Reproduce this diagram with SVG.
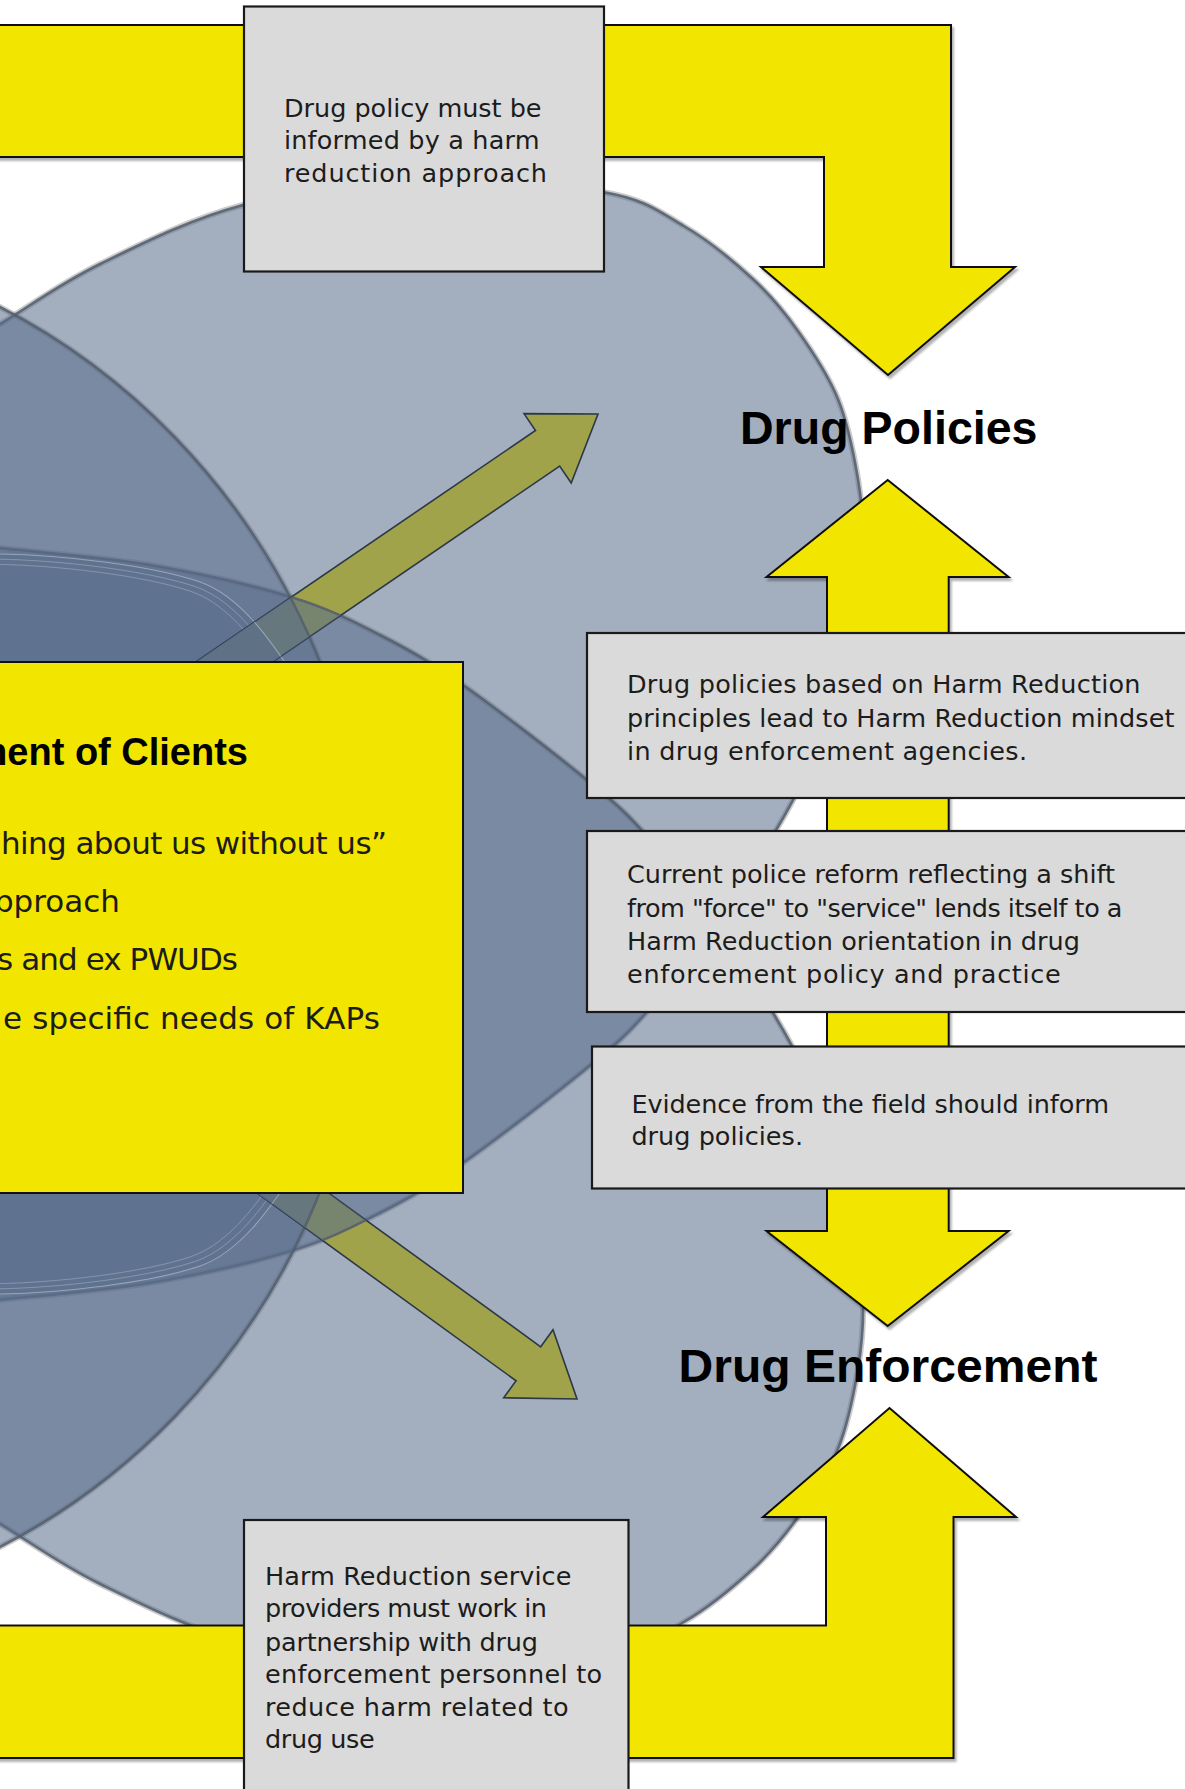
<svg xmlns="http://www.w3.org/2000/svg" xmlns:xlink="http://www.w3.org/1999/xlink" width="1185" height="1789" viewBox="0 0 1185 1789">
<defs>
<style>
.halo{fill:none;stroke:#a2a2a2;stroke-width:6;stroke-opacity:.55}
.lobe{fill:#596D8C;fill-opacity:.554;stroke:#545E6C;stroke-width:2.6;stroke-opacity:.85}
.core{fill:#596D8C;fill-opacity:.554;stroke:#ffffff;stroke-width:1.1;stroke-opacity:.35}
.ring{fill:none;stroke:#ffffff;stroke-width:1;stroke-opacity:.25}
.olive{fill:#A0A34A;stroke:#2C3846;stroke-width:1.6}
.yel{fill:#F2E600;stroke:#111;stroke-width:2;filter:url(#sh)}
.ybox{fill:#F2E600;stroke:#111;stroke-width:2}
.box{fill:#DADADA;stroke:#1a1a1a;stroke-width:2.2}
.t{font-family:'DejaVu Sans',sans-serif;font-size:25.5px;fill:#1c1c1c}
.b{font-family:'DejaVu Sans',sans-serif;font-size:31px;fill:#1c1c1c}
.h{font-family:'Liberation Sans',Arial,sans-serif;font-weight:bold;font-size:46px;fill:#000}
.hc{font-family:'Liberation Sans',Arial,sans-serif;font-weight:bold;font-size:38px;fill:#000}
</style>
<filter id="sh" x="-5%" y="-5%" width="115%" height="115%">
<feDropShadow dx="2" dy="3" stdDeviation="1.2" flood-color="#000" flood-opacity=".3"/>
</filter>
<path id="pA" d="M -50,352 L 0,324 C 25,309.3 59.5,283.8 100,264 C 140.5,244.2 189.7,219.2 243,205 C 296.3,190.8 360,181.2 420,179 C 480,176.8 559,184.2 603,192 C 647,199.8 659,211.5 684,226 C 709,240.5 734,261.5 753,279 C 772,296.5 783.8,311 798,331 C 812.2,351 828,374.3 838,399 C 848,423.7 853.8,453.8 858,479 C 862.2,504.2 863.8,524.8 863,550 C 862.2,575.2 857.8,604.2 853,630 C 848.2,655.8 841.5,681.7 834,705 C 826.5,728.3 817.8,748.8 808,770 C 798.2,791.2 790.5,806.3 775,832 C 759.5,857.7 736.3,894 715,924 C 693.7,954 668.3,988 647,1012 C 625.7,1036 617.7,1042.8 587,1068 C 556.3,1093.2 497.5,1138.8 463,1163 C 428.5,1187.2 408.7,1198.3 380,1213 C 351.3,1227.7 329.3,1239.3 291,1251 C 252.7,1262.7 198.5,1274.8 150,1283 C 101.5,1291.2 33.3,1296.3 0,1300 L -50,1305 Z"/>
<ellipse id="eC" cx="-300" cy="927" rx="671" ry="693"/>
<path id="pD" d="M -50,553 L 0,554 C 60,555 150,565 200,582 C 240,596 270,640 290,670 C 320,720 342,820 342,924 C 342,1028 320,1128 290,1178 C 270,1208 240,1252 200,1266 C 150,1283 60,1293 0,1294 L -50,1295 Z"/>
<clipPath id="clipUp"><polygon points="156.4,689 535.5,430.5 524,413.6 598,414 571.2,483 559.7,466.1 180.6,724.6"/></clipPath>
<clipPath id="clipLow"><polygon points="200.5,1100.2 540.7,1346.8 553,1329.8 577,1399 503.7,1397.8 516.1,1380.8 175.9,1134.2"/></clipPath>
</defs>
<rect x="0" y="0" width="1185" height="1789" fill="#ffffff"/>

<g id="venn">
<use href="#pA" class="halo"/>
<use href="#pA" class="halo" transform="matrix(1 0 0 -1 0 1848)"/>
<use href="#eC" class="halo"/>
<g id="circle-drug-policies"><use href="#pA" class="lobe"/></g>
<g id="circle-drug-enforcement"><use href="#pA" class="lobe" transform="matrix(1 0 0 -1 0 1848)"/></g>
<g id="circle-left"><use href="#eC" class="lobe"/></g>
<g id="circle-center">
<use href="#pD" class="core"/>
<use href="#pD" class="ring" transform="translate(-100 924) scale(0.986) translate(100 -924)"/>
<use href="#pD" class="ring" transform="translate(-100 924) scale(0.972) translate(100 -924)"/>
</g>
</g>

<g id="connectors">
<g id="arrow-to-policies">
<polygon class="olive" points="156.4,689 535.5,430.5 524,413.6 598,414 571.2,483 559.7,466.1 180.6,724.6"/>
<g clip-path="url(#clipUp)">
<use href="#pA" class="lobe" transform="matrix(1 0 0 -1 0 1848)"/>
<use href="#eC" class="lobe"/>
<use href="#pD" class="core"/>
</g>
</g>
<g id="arrow-to-enforcement">
<polygon class="olive" points="200.5,1100.2 540.7,1346.8 553,1329.8 577,1399 503.7,1397.8 516.1,1380.8 175.9,1134.2"/>
<g clip-path="url(#clipLow)">
<use href="#pA" class="lobe"/>
<use href="#eC" class="lobe"/>
<use href="#pD" class="core"/>
</g>
</g>
<polygon id="bent-arrow-top" class="yel" points="-5,25 951,25 951,267 1015,267 888,375 761,267 824,267 824,157 -5,157"/>
<polygon id="double-arrow" class="yel" points="887.7,480 1008.6,577 948.7,577 948.7,1231 1008.6,1231 887.7,1326 766.5,1231 827,1231 827,577 766.5,577"/>
<polygon id="bent-arrow-bottom" class="yel" points="-5,1625.5 826,1625.5 826,1517 763,1517 889.5,1408 1016,1517 953.5,1517 953.5,1758 -5,1758"/>
</g>

<g id="node-top-note">
<rect class="box" x="244" y="6.5" width="360" height="265"/>
<text class="t" x="284" y="117.3" textLength="257.5">Drug policy must be</text>
<text class="t" x="284" y="149.3" textLength="255.6">informed by a harm</text>
<text class="t" x="284" y="181.7" textLength="263">reduction approach</text>
</g>

<g id="node-drug-policies">
<text class="h" x="740" y="443.5" textLength="297.5" lengthAdjust="spacingAndGlyphs">Drug Policies</text>
</g>

<g id="node-clients">
<rect class="ybox" x="-5" y="662" width="468" height="531"/>
<text class="hc" x="248" y="765" text-anchor="end">ment of Clients</text>
<text class="b" x="1" y="854" textLength="386">hing about us without us”</text>
<text class="b" x="120" y="912" text-anchor="end">pproach</text>
<text class="b" x="-3" y="970" textLength="241">s and ex PWUDs</text>
<text class="b" x="3" y="1029" textLength="377">e specific needs of KAPs</text>
</g>

<g id="node-note-1">
<rect class="box" x="587" y="633" width="620" height="165"/>
<text class="t" x="627" y="693" textLength="513.5">Drug policies based on Harm Reduction</text>
<text class="t" x="627" y="726.5" textLength="547.5">principles lead to Harm Reduction mindset</text>
<text class="t" x="627" y="759.5" textLength="400">in drug enforcement agencies.</text>
</g>

<g id="node-note-2">
<rect class="box" x="587" y="831" width="620" height="181"/>
<text class="t" x="627" y="883.3" textLength="488">Current police reform reflecting a shift</text>
<text class="t" x="627" y="916.7" textLength="495.5">from &quot;force&quot; to &quot;service&quot; lends itself to a</text>
<text class="t" x="627" y="950" textLength="453">Harm Reduction orientation in drug</text>
<text class="t" x="627" y="982.7" textLength="433.7">enforcement policy and practice</text>
</g>

<g id="node-note-3">
<rect class="box" x="592" y="1046.5" width="615" height="142"/>
<text class="t" x="631.4" y="1113.3" textLength="477.6">Evidence from the field should inform</text>
<text class="t" x="631.4" y="1145" textLength="171.6">drug policies.</text>
</g>

<g id="node-drug-enforcement">
<text class="h" x="678.5" y="1382" textLength="419" lengthAdjust="spacingAndGlyphs">Drug Enforcement</text>
</g>

<g id="node-bottom-note">
<rect class="box" x="244" y="1520" width="384.5" height="280"/>
<text class="t" x="265" y="1584.7" textLength="306.4">Harm Reduction service</text>
<text class="t" x="265" y="1617.3" textLength="282">providers must work in</text>
<text class="t" x="265" y="1650.6" textLength="273">partnership with drug</text>
<text class="t" x="265" y="1683.3" textLength="337">enforcement personnel to</text>
<text class="t" x="265" y="1716" textLength="303.6">reduce harm related to</text>
<text class="t" x="265" y="1748" textLength="109.7">drug use</text>
</g>
</svg>
